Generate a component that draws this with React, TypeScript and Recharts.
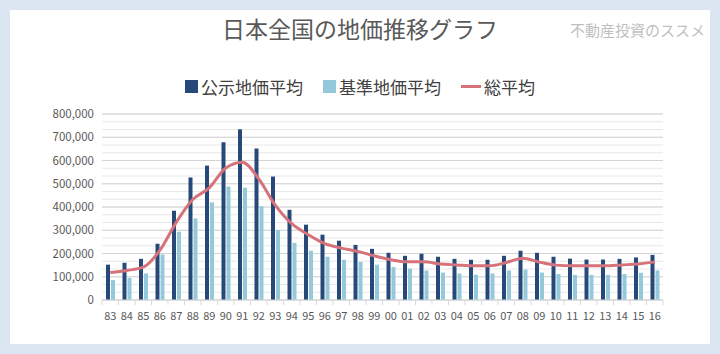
import {
  Bar,
  CartesianGrid,
  ComposedChart,
  Line,
  XAxis,
  YAxis,
} from "recharts";

const years = [
  "83", "84", "85", "86", "87", "88", "89", "90", "91", "92", "93", "94",
  "95", "96", "97", "98", "99", "00", "01", "02", "03", "04", "05", "06",
  "07", "08", "09", "10", "11", "12", "13", "14", "15", "16",
];

const koji = [
  152000, 160000, 177000, 242000, 384000, 527000, 578000, 678000, 734000, 652000,
  531000, 388000, 324000, 281000, 255000, 237000, 220000, 203000, 190000, 199000,
  186000, 177000, 173000, 173000, 190000, 212000, 203000, 186000, 178000, 174000,
  174000, 177000, 183000, 194000,
];

const kijun = [
  86000, 95000, 114000, 196000, 294000, 351000, 420000, 488000, 483000, 403000,
  301000, 246000, 212000, 186000, 173000, 164000, 152000, 142000, 135000, 127000,
  118000, 114000, 109000, 114000, 127000, 131000, 118000, 112000, 108000, 108000,
  108000, 112000, 117000, 127000,
];

const total = [
  118000, 127000, 141000, 213000, 334000, 432000, 482000, 568000, 593000, 521000,
  408000, 328000, 281000, 242000, 223000, 209000, 190000, 173000, 164000, 164000,
  155000, 151000, 147000, 147000, 161000, 180000, 163000, 150000, 147000, 147000,
  147000, 151000, 155000, 164000,
];

const Y_MAX = 800000;
const yTicks = [0, 100000, 200000, 300000, 400000, 500000, 600000, 700000, 800000];
const minorTicks = Array.from({ length: 25 }, (_, i) => (i * Y_MAX) / 24);

const data = years.map((y, i) => ({
  year: y,
  koji: koji[i],
  kijun: kijun[i],
  total: total[i],
}));

const FONT = "'Noto Sans CJK JP', 'Noto Sans', sans-serif";
const DARK = "#27497a";
const LIGHT = "#93c9da";
const RED = "#d6727a";

const legendItems = [
  { label: "公示地価平均", color: DARK, kind: "box" },
  { label: "基準地価平均", color: LIGHT, kind: "box" },
  { label: "総平均", color: RED, kind: "line" },
];

function YearTick(props: any) {
  const { x, y, payload, index, visibleTicksCount } = props;
  const half = payload?.offset ?? 8.25;
  return (
    <g>
      <line x1={x - half} x2={x - half} y1={y - 8} y2={y - 3} stroke="#d9d9d9" />
      {index === visibleTicksCount - 1 && (
        <line x1={x + half} x2={x + half} y1={y - 8} y2={y - 3} stroke="#d9d9d9" />
      )}
      <text x={x} y={y + 12} textAnchor="middle" fontSize={11} fill="#595959" fontFamily={FONT}>
        {payload.value}
      </text>
    </g>
  );
}

// light lines between the 100,000 gridlines
function minorLines(args: any) {
  const { yAxis, offset } = args || {};
  if (yAxis && typeof yAxis.scale === "function") {
    return minorTicks.map((v) => yAxis.scale(v));
  }
  if (!offset) return [];
  return minorTicks.map((v) => offset.top + offset.height * (1 - v / Y_MAX));
}

export default function App() {
  return (
    <div style={{ position: "fixed", inset: 0, background: "#dce6f2" }}>
      <div style={{ position: "absolute", left: 10, top: 10, width: 700, height: 334, background: "#fff" }}>
        <div style={{ position: "absolute", left: 0, width: 700, top: 1, textAlign: "center", fontFamily: FONT, fontSize: 23, color: "#595959" }}>
          日本全国の地価推移グラフ
        </div>
        <div style={{ position: "absolute", right: 5, top: 9, fontFamily: FONT, fontSize: 15, color: "#bfbfbf" }}>
          不動産投資のススメ
        </div>
        <div
          style={{
            position: "absolute",
            left: 0,
            width: 700,
            top: 64,
            display: "flex",
            justifyContent: "center",
            gap: 20,
            fontFamily: FONT,
            fontSize: 17,
            color: "#404040",
          }}
        >
          {legendItems.map((it) => (
            <div key={it.label} style={{ display: "flex", alignItems: "center" }}>
              <span
                style={{
                  display: "inline-block",
                  width: it.kind === "line" ? 20 : 13,
                  height: it.kind === "line" ? 3 : 13,
                  background: it.color,
                  marginRight: 3,
                }}
              />
              <span>{it.label}</span>
            </div>
          ))}
        </div>
        <ComposedChart
          width={700}
          height={334}
          data={data}
          margin={{ top: 104, right: 47, left: 0, bottom: 14 }}
          barSize={4}
          barGap={1}
          style={{ position: "absolute", left: 0, top: 0 }}
        >
          <CartesianGrid vertical={false} stroke="#e8e8e8" horizontalCoordinatesGenerator={minorLines} />
          <CartesianGrid vertical={false} stroke="#d4d4d4" />
          <XAxis
            dataKey="year"
            interval={0}
            height={30}
            axisLine={{ stroke: "#d9d9d9" }}
            tickLine={false}
            tick={<YearTick />}
          />
          <YAxis
            width={92}
            domain={[0, Y_MAX]}
            ticks={yTicks}
            axisLine={false}
            tickLine={false}
            tickFormatter={(v: number) => v.toLocaleString("en-US")}
            tick={{ fontSize: 11.5, fill: "#595959", fontFamily: FONT }}
          />
          <Bar dataKey="koji" name="公示地価平均" fill={DARK} isAnimationActive={false} />
          <Bar dataKey="kijun" name="基準地価平均" fill={LIGHT} isAnimationActive={false} />
          <Line
            dataKey="total"
            name="総平均"
            type="monotone"
            stroke={RED}
            strokeWidth={3}
            dot={false}
            isAnimationActive={false}
          />
        </ComposedChart>
      </div>
    </div>
  );
}
